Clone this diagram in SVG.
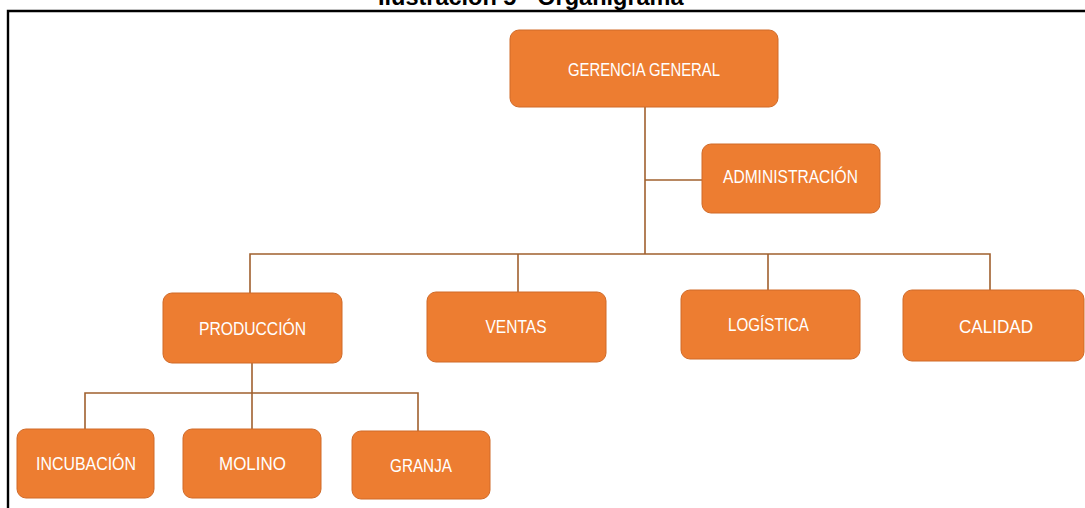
<svg xmlns="http://www.w3.org/2000/svg" width="1085" height="508" viewBox="0 0 1085 508">
<style>
.box{fill:#ED7D31;stroke:#D06A28;stroke-width:1}
.lbl{font-family:"Liberation Sans",Arial,sans-serif;font-size:17.5px;fill:#FFFFFF;text-anchor:middle}
.con{stroke:#A0602E;stroke-width:1.6;fill:none}
.frame{stroke:#000;stroke-width:2.4;fill:none}
.title{font-family:"Liberation Sans",Arial,sans-serif;font-size:23.5px;font-weight:bold;fill:#000}
</style>
<rect width="1085" height="508" fill="#FFFFFF"/>
<text class="title" x="378" y="5">Ilustración 5 - Organigrama</text>
<path class="frame" d="M8,508 V11 H1085"/>
<g id="connectors">
<path class="con" d="M645,107 V254"/>
<path class="con" d="M645,180 H702"/>
<path class="con" d="M250,293 V254 H990 V290"/>
<path class="con" d="M518,254 V292"/>
<path class="con" d="M768,254 V290"/>
<path class="con" d="M252,363 V429"/>
<path class="con" d="M85,429 V393 H418 V431"/>
</g>
<g id="gerencia"><rect class="box" x="510" y="30" width="268" height="77" rx="9"/><text class="lbl" x="644" y="76" textLength="152" lengthAdjust="spacingAndGlyphs">GERENCIA GENERAL</text></g>
<g id="administracion"><rect class="box" x="702" y="144" width="178" height="69" rx="9"/><text class="lbl" x="790.5" y="183" textLength="135" lengthAdjust="spacingAndGlyphs">ADMINISTRACIÓN</text></g>
<g id="produccion"><rect class="box" x="163" y="293" width="179" height="70" rx="9"/><text class="lbl" x="252.5" y="335" textLength="107" lengthAdjust="spacingAndGlyphs">PRODUCCIÓN</text></g>
<g id="ventas"><rect class="box" x="427" y="292" width="179" height="70" rx="9"/><text class="lbl" x="516" y="333" textLength="61" lengthAdjust="spacingAndGlyphs">VENTAS</text></g>
<g id="logistica"><rect class="box" x="681" y="290" width="179" height="69" rx="9"/><text class="lbl" x="768.5" y="331" textLength="81" lengthAdjust="spacingAndGlyphs">LOGÍSTICA</text></g>
<g id="calidad"><rect class="box" x="903" y="290" width="181" height="71" rx="9"/><text class="lbl" x="996" y="333" textLength="74" lengthAdjust="spacingAndGlyphs">CALIDAD</text></g>
<g id="incubacion"><rect class="box" x="17" y="429" width="137" height="69" rx="9"/><text class="lbl" x="86" y="470" textLength="100" lengthAdjust="spacingAndGlyphs">INCUBACIÓN</text></g>
<g id="molino"><rect class="box" x="183" y="429" width="138" height="69" rx="9"/><text class="lbl" x="252.5" y="470" textLength="67" lengthAdjust="spacingAndGlyphs">MOLINO</text></g>
<g id="granja"><rect class="box" x="352" y="431" width="138" height="68" rx="9"/><text class="lbl" x="421" y="472" textLength="62" lengthAdjust="spacingAndGlyphs">GRANJA</text></g>
</svg>
